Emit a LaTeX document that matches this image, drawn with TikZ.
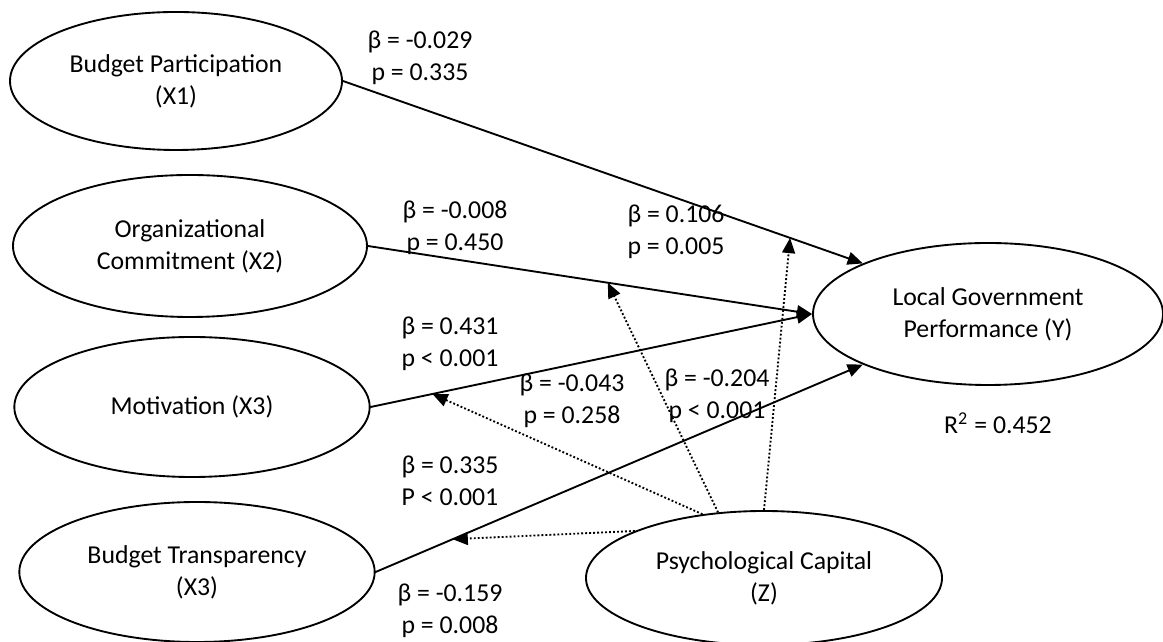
\documentclass[tikz,border=0pt]{standalone}
\usepackage{fontspec}
\setmainfont{Carlito}
\usetikzlibrary{arrows.meta,shapes.geometric,calc}

\begin{document}
\begin{tikzpicture}[x=0.015cm,y=-0.015cm,line cap=round,line join=round,
        font=\fontsize{11}{13.6}\selectfont,
        var/.style={draw,ellipse,line width=0.8pt,inner sep=0pt,align=center},
        ruta/.style={line width=0.8pt,-{Triangle[length=6.5pt,width=5.5pt]}},
        moder/.style={line width=0.8pt,line cap=butt,dash pattern=on 0.8pt off 0.9pt,-{Triangle[length=6.5pt,width=5.5pt]}},
        coef/.style={align=center,inner sep=0pt}]
        \useasboundingbox (0,0) rectangle (1163,642);

        % Variables latentes
        \node[var,minimum width=4.98cm,minimum height=2.07cm] (X1) at (176,81) {Budget Participation\\(X1)};
        \node[var,minimum width=5.31cm,minimum height=2.13cm] (X2) at (190,246) {Organizational\\Commitment (X2)};
        \node[var,minimum width=5.33cm,minimum height=2.10cm] (X3) at (192,407) {Motivation (X3)};
        \node[var,minimum width=5.33cm,minimum height=2.10cm] (X4) at (197,572) {Budget Transparency\\(X3)};
        \node[var,minimum width=5.25cm,minimum height=2.13cm] (Y) at (988,314) {Local Government\\Performance (Y)};
        \node[var,minimum width=5.34cm,minimum height=2.01cm] (Z) at (764,578) {Psychological Capital\\(Z)};

        % Efectos directos
        \draw[ruta] (X1.east) -- (Y.158);
        \draw[ruta] (X2.east) -- (Y.west);
        \draw[ruta] (X3.east) -- (Y.west);
        \draw[ruta] (X4.east) -- (Y.202);

        % Puntos de moderacion sobre las rutas
        \coordinate (m1) at ($(X1.east)!0.86!(Y.158)$);
        \coordinate (m2) at ($(X2.east)!0.54!(Y.west)$);
        \coordinate (m3) at ($(X3.east)!0.14!(Y.west)$);
        \coordinate (m4) at ($(X4.east)!0.158!(Y.202)$);

        % Efectos moderadores
        \draw[moder] (Z.north) -- (m1);
        \draw[moder] (Z.125) -- (m2);
        \draw[moder] (Z.134) -- (m3);
        \draw[moder] (Z.160) -- (m4);

        % Coeficientes
        \node[coef] (c1) at (420,58) {β = -0.029\\p = 0.335};
        \node[coef] (c2) at (455,228) {β = -0.008\\p = 0.450};
        \node[coef] (c3) at (676,232) {β = 0.106\\p = 0.005};
        \node[coef] (c4) at (450,344) {β = 0.431\\p < 0.001};
        \node[coef] (c5) at (572,401) {β = -0.043\\p = 0.258};
        \node[coef] (c6) at (717,396) {β = -0.204\\p < 0.001};
        \node[coef] (c7) at (450,481) {β = 0.335\\P < 0.001};
        \node[coef] (c8) at (450,611) {β = -0.159\\p = 0.008};
        \node[coef] (r2) at (998,423) {R\textsuperscript{2} = 0.452};
    \end{tikzpicture}
\end{document}
